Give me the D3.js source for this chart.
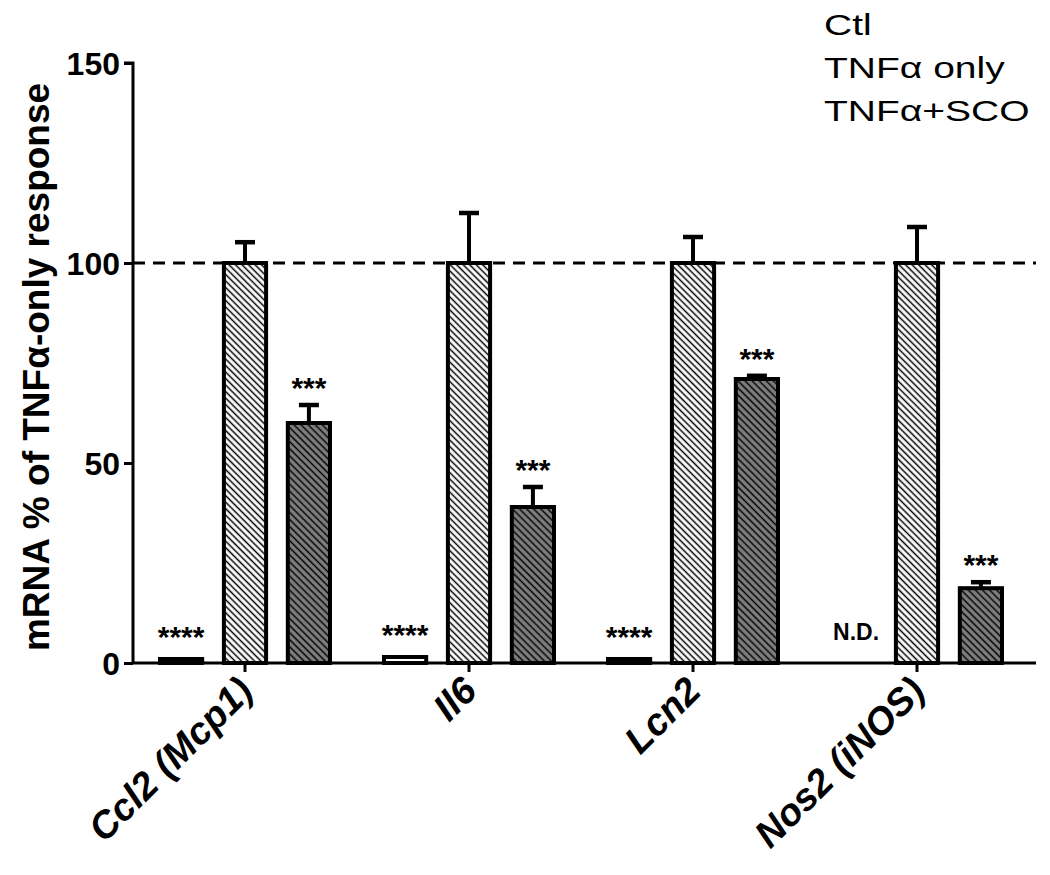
<!DOCTYPE html>
<html><head><meta charset="utf-8">
<script src="https://cdn.jsdelivr.net/npm/d3@7"></script>
<style>body{margin:0;background:#fff}svg{display:block}text{font-family:"Liberation Sans",Arial,sans-serif}</style>
</head><body><svg id="c" width="1050" height="875"></svg>
<script>
const categories = ["Ccl2 (Mcp1)", "Il6", "Lcn2", "Nos2 (iNOS)"];
const seriesNames = ["Ctl", "TNFα only", "TNFα+SCO"];
const ctlValues = [1, 1.5, 1, null];
const ctlErr = [0, 0, 0, null];
const tnfValues = [100, 100, 100, 100];
const tnfErr = [5.2, 12.5, 6.5, 9];
const scoValues = [60, 39, 71, 18.7];
const scoErr = [4.5, 5, 0.8, 1.5];
const ctlMarks = ["****", "****", "****", "N.D."];
const scoMarks = ["***", "***", "***", "***"];
const yTicks = [0, 50, 100, 150];

const svg = d3.select("#c");
const x0 = 133, x1 = 1036, yTop = 63, yBot = 663;
const y = d3.scaleLinear().domain([0, 150]).range([yBot, yTop]);
const x = d3.scaleBand().domain(categories).range([133, 1029]).paddingInner(0).paddingOuter(0.0);
const sub = d3.scaleBand().domain(seriesNames).range([-85, 85]).paddingInner(0.34).paddingOuter(0);

const defs = svg.append("defs");
function hatch(id, bg, sp, sw) {
  const p = defs.append("pattern").attr("id", id).attr("patternUnits", "userSpaceOnUse")
    .attr("width", sp).attr("height", sp).attr("patternTransform", "rotate(-45)");
  p.append("rect").attr("width", sp).attr("height", sp).attr("fill", bg);
  p.append("line").attr("x1", sp/2).attr("x2", sp/2).attr("y1", 0).attr("y2", sp)
    .attr("stroke", "#000").attr("stroke-width", sw);
}
hatch("hTnf", "#fff", 4.6, 1.5);
hatch("hSco", "#808080", 5.0, 1.5);

const fills = ["#fff", "url(#hTnf)", "url(#hSco)"];
const vals = [ctlValues, tnfValues, scoValues];
const errs = [ctlErr, tnfErr, scoErr];

const center = c => x(c) + x.bandwidth()/2;

// dashed reference line
svg.append("line").attr("x1", x0).attr("x2", x1).attr("y1", y(100)).attr("y2", y(100))
  .attr("stroke", "#000").attr("stroke-width", 3).attr("stroke-dasharray", "12,8");

// bars
seriesNames.forEach((s, si) => {
  const g = svg.append("g");
  categories.forEach((c, ci) => {
    const v = vals[si][ci];
    if (v == null) return;
    const bx = center(c) + sub(s);
    const bw = sub.bandwidth();
    const e = errs[si][ci];
    if (e > 0) {
      const cx = bx + bw/2;
      g.append("line").attr("x1", cx).attr("x2", cx).attr("y1", y(v)).attr("y2", y(v+e))
        .attr("stroke", "#000").attr("stroke-width", 4);
      g.append("line").attr("x1", cx-10).attr("x2", cx+10).attr("y1", y(v+e)).attr("y2", y(v+e))
        .attr("stroke", "#000").attr("stroke-width", 4.5);
    }
    g.append("rect").attr("x", bx).attr("y", y(v)).attr("width", bw).attr("height", y(0)-y(v))
      .attr("fill", fills[si]).attr("stroke", "#000").attr("stroke-width", 4);
  });
});

// significance marks
categories.forEach((c, ci) => {
  const bw = sub.bandwidth();
  const cxCtl = center(c) + sub("Ctl") + bw/2;
  const m = ctlMarks[ci];
  if (m === "N.D.") {
    svg.append("text").attr("x", cxCtl + 3).attr("y", y(0) - 23).attr("text-anchor", "middle")
      .attr("font-size", 23).attr("font-weight", "bold").text(m);
  } else {
    svg.append("text").attr("x", cxCtl).attr("y", y(ctlValues[ci]) - 12).attr("text-anchor", "middle")
      .attr("font-size", 30).attr("font-weight", "bold").text(m);
  }
  const cxS = center(c) + sub("TNFα+SCO") + bw/2;
  svg.append("text").attr("x", cxS).attr("y", y(scoValues[ci] + scoErr[ci]) - 7).attr("text-anchor", "middle")
    .attr("font-size", 30).attr("font-weight", "bold").text(scoMarks[ci]);
});

// axes
const yAxis = d3.axisLeft(y).tickValues(yTicks).tickSize(9).tickPadding(4);
const gy = svg.append("g").attr("transform", `translate(${x0},0)`).call(yAxis);
gy.select(".domain").attr("stroke-width", 3).attr("d", `M-9,${yTop}H0V${yBot}`);
gy.selectAll(".tick line").attr("stroke-width", 3);
gy.selectAll(".tick text").attr("font-size", 32).attr("font-weight", "bold")
  .attr("font-family", "'Liberation Sans',Arial,sans-serif").attr("fill", "#000").attr("dy", "0.35em");

svg.append("line").attr("x1", x0).attr("x2", x1).attr("y1", yBot).attr("y2", yBot)
  .attr("stroke", "#000").attr("stroke-width", 3);
const xAxis = d3.axisBottom(x).tickSize(9).tickFormat(() => "");
const gx = svg.append("g").attr("transform", `translate(0,${yBot})`).call(xAxis);
gx.select(".domain").remove();
gx.selectAll(".tick line").attr("stroke-width", 3);

categories.forEach(c => {
  svg.append("text").attr("transform", `translate(${center(c)+10},${yBot+30}) rotate(-45)`)
    .attr("text-anchor", "end").attr("font-size", 38).attr("font-weight", "bold")
    .attr("font-style", "italic").text(c);
});

// y label
svg.append("text").attr("transform", `translate(49,367) rotate(-90)`)
  .attr("text-anchor", "middle").attr("font-size", 37).attr("font-weight", "bold")
  .text("mRNA % of TNFα-only response");

// legend (text only)
const lg = svg.append("g").attr("transform", "translate(824,0) scale(1.3,1)");
seriesNames.forEach((s, i) => {
  lg.append("text").attr("x", 0).attr("y", 35 + i*43).attr("font-size", 30).text(s);
});
</script></body></html>
